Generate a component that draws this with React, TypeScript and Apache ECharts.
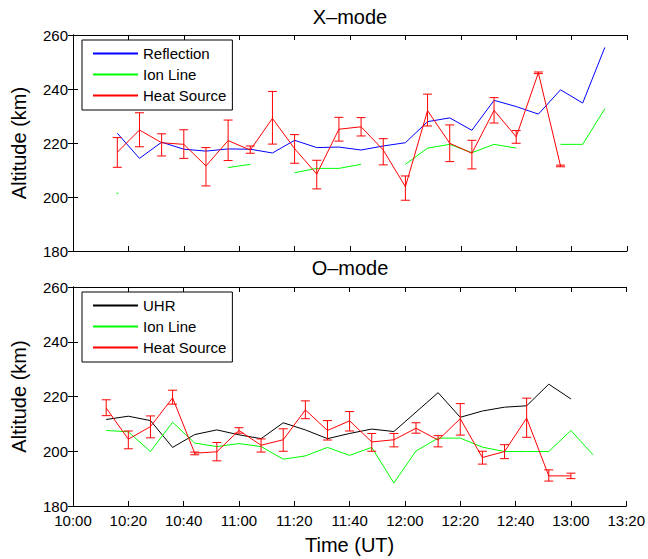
import React, { useEffect, useRef } from "react";
import * as echarts from "echarts";

// minutes after 10:00 UT
const timesTop = [16, 24, 32, 40, 48, 56, 64, 72, 80, 88, 96, 104, 112, 120, 128, 136, 144, 152, 160, 168, 176, 184, 192];
const reflection = [223.6, 214.3, 220.3, 217.7, 217.0, 217.8, 217.7, 216.3, 221.0, 218.3, 218.5, 217.4, 218.9, 220.1, 227.9, 229.3, 224.7, 235.8, 233.5, 230.7, 239.7, 234.8, 255.4];
const ionTop = [201.4, null, null, null, null, 210.9, 212.1, null, 209.0, 210.6, 210.6, 212.1, null, 212.1, 218.1, 219.5, 216.4, 219.5, 218.1, null, 219.5, 219.5, 232.7];
const heatTop = [216.6, 224.8, 220.1, 219.5, 211.5, 220.9, 217.4, 229.1, 217.9, 208.5, 225.1, 226.0, 217.4, 203.8, 232.0, 219.9, 216.2, 232.1, 222.3, 246.0, 211.5, null, null];
const heatTopLow = [211.0, 218.6, 215.2, 214.3, 204.1, 213.5, 216.2, 219.6, 212.5, 203.0, 220.7, 222.6, 211.9, 198.8, 226.3, 213.1, 210.4, 227.4, 219.9, 245.7, 211.2];
const heatTopHigh = [222.0, 231.2, 223.4, 224.9, 218.3, 228.5, 218.9, 239.1, 223.1, 213.6, 229.5, 229.4, 221.6, 207.8, 238.1, 226.7, 221.0, 236.8, 224.6, 246.3, 211.8];

const timesBottom = [12, 20, 28, 36, 44, 52, 60, 68, 76, 84, 92, 100, 108, 116, 124, 132, 140, 148, 156, 164, 172, 180, 188];
const uhr = [211.6, 212.8, 211.2, 201.4, 206.1, 207.8, 206.0, 204.6, 210.4, 207.8, 204.6, 206.5, 208.1, 207.2, 214.3, 221.4, 212.4, 214.7, 216.1, 216.6, 224.5, 219.1, null];
const ionBottom = [207.6, 207.1, 199.9, 210.6, 203.0, 201.7, 202.8, 201.7, 197.1, 198.3, 201.4, 198.5, 201.4, 188.4, 200.1, 204.8, 204.8, 201.5, 199.9, 199.9, 199.9, 207.6, 198.7];
const heatBottom = [215.8, 204.4, 209.0, 219.5, 199.3, 199.8, 207.6, 202.2, 204.2, 215.1, 207.6, 211.1, 203.4, 204.2, 208.4, 204.1, 211.9, 197.7, 199.9, 212.1, 191.0, 191.0, null];
const heatBottomLow = [213.0, 200.9, 204.9, 217.2, 198.7, 196.5, 206.6, 199.7, 200.0, 211.9, 204.1, 207.4, 200.0, 201.6, 206.6, 201.6, 205.9, 195.3, 197.3, 205.1, 189.1, 190.0];
const heatBottomHigh = [218.8, 207.4, 212.9, 222.3, 199.7, 203.2, 208.6, 204.5, 208.2, 218.4, 211.2, 214.5, 206.5, 206.5, 210.4, 205.7, 217.4, 200.0, 202.4, 219.4, 193.2, 192.0];

const xTickLabels = ["10:00", "10:20", "10:40", "11:00", "11:20", "11:40", "12:00", "12:20", "12:40", "13:00", "13:20"];
const yMin = 180;
const yMax = 260;
const yStep = 20;
const xMin = 0;
const xMax = 200;
const xStep = 20;

const FONT = "Liberation Sans, Arial, Helvetica, sans-serif";
const GREEN = "#00ff00";

function pairs(ts: number[], vs: (number | null)[]) {
  return ts.map((t, i) => [t, vs[i]]);
}

function errData(ts: number[], lo: number[], hi: number[]) {
  return lo.map((l, i) => [ts[i], l, hi[i]]);
}

const errorRender = (params: any, api: any) => {
  const x = api.value(0);
  const lo = api.coord([x, api.value(1)]);
  const hi = api.coord([x, api.value(2)]);
  const w = 4.5;
  const style = { stroke: "#ff0000", lineWidth: 1 };
  return {
    type: "group",
    children: [
      { type: "line", shape: { x1: lo[0], y1: lo[1], x2: hi[0], y2: hi[1] }, style },
      { type: "line", shape: { x1: lo[0] - w, y1: lo[1], x2: lo[0] + w, y2: lo[1] }, style },
      { type: "line", shape: { x1: hi[0] - w, y1: hi[1], x2: hi[0] + w, y2: hi[1] }, style },
    ],
  };
};

export default function App() {
  const ref = useRef<HTMLDivElement>(null);
  useEffect(() => {
    if (!ref.current) return;
    const chart = echarts.init(ref.current, undefined, { renderer: "svg" });

    const mkX = (grid: number, pos: "bottom" | "top", labels: boolean, name?: string) => ({
      type: "value",
      gridIndex: grid,
      position: pos,
      min: xMin,
      max: xMax,
      interval: xStep,
      axisLine: { show: true, lineStyle: { color: "#000", width: 1 } },
      axisTick: { show: true, inside: true, length: 5, lineStyle: { color: "#000" } },
      axisLabel: {
        show: labels,
        margin: 7,
        color: "#000",
        fontSize: 15,
        fontFamily: FONT,
        formatter: (v: number) => xTickLabels[Math.round((v - xMin) / xStep)] ?? "",
      },
      splitLine: { show: false },
      name: name,
      nameLocation: "middle",
      nameGap: 29,
      nameTextStyle: { color: "#000", fontSize: 20, fontFamily: FONT },
    });
    const mkY = (grid: number, pos: "left" | "right", labels: boolean, name?: string) => ({
      type: "value",
      gridIndex: grid,
      position: pos,
      min: yMin,
      max: yMax,
      interval: yStep,
      axisLine: { show: true, lineStyle: { color: "#000", width: 1 } },
      axisTick: { show: true, inside: true, length: 5, lineStyle: { color: "#000" } },
      axisLabel: { show: labels, margin: 5, color: "#000", fontSize: 15, fontFamily: FONT },
      splitLine: { show: false },
      name: name,
      nameLocation: "middle",
      nameGap: 44,
      nameTextStyle: { color: "#000", fontSize: 20, fontFamily: FONT },
    });

    const lineS = (name: string, color: string, xi: number, yi: number, data: any[]) => ({
      type: "line",
      name,
      xAxisIndex: xi,
      yAxisIndex: yi,
      data,
      symbol: "none",
      showSymbol: true,
      connectNulls: false,
      lineStyle: { color, width: 1 },
      itemStyle: { color },
      z: 2,
    });

    const ionTopData: any[] = pairs(timesTop, ionTop);
    ionTopData[0] = { value: ionTopData[0], symbol: "rect", symbolSize: [2, 1] };

    const legendBase = {
      orient: "vertical",
      left: 82,
      itemWidth: 45,
      itemHeight: 14,
      itemGap: 6,
      padding: [6, 6, 7, 10],
      borderColor: "#000",
      borderWidth: 1,
      backgroundColor: "#fff",
      selectedMode: false,
      itemStyle: { opacity: 0 },
      textStyle: { color: "#000", fontSize: 15, fontFamily: FONT },
    };

    chart.setOption({
      animation: false,
      backgroundColor: "#fff",
      grid: [
        { left: 73, right: 21, top: 35, height: 216 },
        { left: 73, right: 21, top: 287, height: 219 },
      ],
      xAxis: [
        mkX(0, "bottom", false),
        mkX(0, "top", false),
        mkX(1, "bottom", true, "Time (UT)"),
        mkX(1, "top", false),
      ],
      yAxis: [
        mkY(0, "left", true, "Altitude (km)"),
        mkY(0, "right", false),
        mkY(1, "left", true, "Altitude (km)"),
        mkY(1, "right", false),
      ],
      legend: [
        { ...legendBase, top: 40, data: ["Reflection", "Ion Line", "Heat Source"] },
        { ...legendBase, top: 292, data: ["UHR", "Ion Line", "Heat Source"] },
      ],
      graphic: [
        {
          type: "text",
          x: 350,
          y: 17,
          style: { text: "X\u2013mode", align: "center", verticalAlign: "middle", fontSize: 20, fontFamily: FONT, fill: "#000" },
        },
        {
          type: "text",
          x: 350,
          y: 268,
          style: { text: "O\u2013mode", align: "center", verticalAlign: "middle", fontSize: 20, fontFamily: FONT, fill: "#000" },
        },
      ],
      series: [
        lineS("Reflection", "#0000ff", 0, 0, pairs(timesTop, reflection)),
        lineS("Ion Line", GREEN, 0, 0, ionTopData),
        lineS("Heat Source", "#ff0000", 0, 0, pairs(timesTop, heatTop)),
        {
          type: "custom",
          name: "Heat Source error (X)",
          xAxisIndex: 0,
          yAxisIndex: 0,
          data: errData(timesTop, heatTopLow, heatTopHigh),
          encode: { x: 0, y: [1, 2] },
          renderItem: errorRender,
          z: 3,
        },
        lineS("UHR", "#000000", 2, 2, pairs(timesBottom, uhr)),
        lineS("Ion Line", GREEN, 2, 2, pairs(timesBottom, ionBottom)),
        lineS("Heat Source", "#ff0000", 2, 2, pairs(timesBottom, heatBottom)),
        {
          type: "custom",
          name: "Heat Source error (O)",
          xAxisIndex: 2,
          yAxisIndex: 2,
          data: errData(timesBottom, heatBottomLow, heatBottomHigh),
          encode: { x: 0, y: [1, 2] },
          renderItem: errorRender,
          z: 3,
        },
      ],
    });
    return () => chart.dispose();
  }, []);
  return (
    <div
      ref={ref}
      style={{ position: "fixed", left: 0, top: 0, width: 648, height: 559, background: "#fff" }}
    />
  );
}
